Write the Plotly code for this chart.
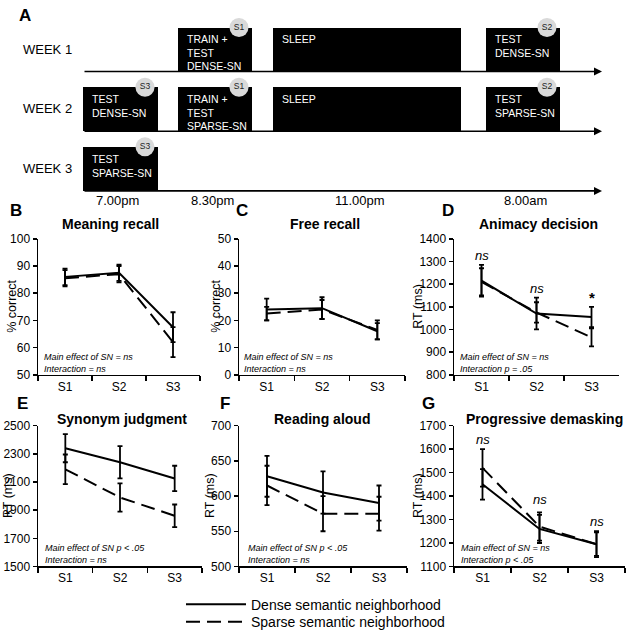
import plotly.graph_objects as go

# ---------------- data ----------------
sessions = ["S1", "S2", "S3"]

meaning_dense = [86.0, 87.5, 67.5]
meaning_dense_err = [3.0, 3.0, 5.5]
meaning_sparse = [85.5, 87.0, 62.0]
meaning_sparse_err = [3.0, 3.0, 5.5]

free_dense = [24.0, 24.5, 16.0]
free_dense_err = [4.0, 4.0, 3.0]
free_sparse = [22.5, 24.0, 16.5]
free_sparse_err = [2.5, 3.5, 3.5]

animacy_dense = [1215, 1070, 1055]
animacy_dense_err = [70, 70, 45]
animacy_sparse = [1210, 1075, 965]
animacy_sparse_err = [60, 45, 40]
animacy_marks = ["ns", "ns", "*"]

synonym_dense = [2340, 2240, 2125]
synonym_dense_err = [100, 115, 90]
synonym_sparse = [2190, 1990, 1860]
synonym_sparse_err = [105, 100, 80]

reading_dense = [628, 605, 590]
reading_dense_err = [29, 30, 25]
reading_sparse = [615, 575, 575]
reading_sparse_err = [28, 25, 24]

demask_dense = [1450, 1260, 1195]
demask_dense_err = [65, 60, 50]
demask_sparse = [1520, 1270, 1195]
demask_sparse_err = [80, 60, 55]
demask_marks = ["ns", "ns", "ns"]

# timeline (panel A)
weeks = ["WEEK 1", "WEEK 2", "WEEK 3"]
time_labels = ["7.00pm", "8.30pm", "11.00pm", "8.00am"]
block_week = [0, 0, 0, 1, 1, 1, 1, 2]
block_slot = [1, 2, 3, 0, 1, 2, 3, 0]
block_text = ["TRAIN +<br>TEST<br>DENSE-SN", "SLEEP", "TEST<br>DENSE-SN",
              "TEST<br>DENSE-SN", "TRAIN +<br>TEST<br>SPARSE-SN", "SLEEP", "TEST<br>SPARSE-SN",
              "TEST<br>SPARSE-SN"]
block_session = ["S1", "", "S2", "S3", "S1", "", "S2", "S3"]

# ---------------- layout helpers ----------------
W, H = 627, 639
FONT = "Liberation Sans, Arial, sans-serif"


def px(x):
    return x / W


def py(y):
    return 1 - y / H


# timeline geometry in panel-A pixel units
slot_start = [83, 178, 273, 486]
slot_end = [158, 252, 461, 560]
time_x = [117, 212, 360, 525]
row_top0, row_h, row_gap = 21, 45, 61
line_start, line_end = 83, 602

fig = go.Figure()

# panel A: blocks
ys, bases, lens = [], [], []
for w, s in zip(block_week, block_slot):
    ys.append(row_top0 + row_gap * w + row_h / 2)
    bases.append(slot_start[s])
    lens.append(slot_end[s] - slot_start[s])
fig.add_trace(go.Bar(orientation="h", y=ys, x=lens, base=bases, width=row_h,
                     marker=dict(color="black", line=dict(width=0)),
                     xaxis="x7", yaxis="y7", showlegend=False, hoverinfo="skip"))

cx, cy, ct = [], [], []
for w, s, lab in zip(block_week, block_slot, block_session):
    if lab:
        cx.append(slot_end[s] - 13)
        cy.append(row_top0 + row_gap * w)
        ct.append(lab)
fig.add_trace(go.Scatter(x=cx, y=cy, text=ct, mode="markers+text", textposition="middle center",
                         marker=dict(size=19, color="#d9d9d9"),
                         textfont=dict(size=8.5, color="#222", family=FONT),
                         xaxis="x7", yaxis="y7", showlegend=False, hoverinfo="skip"))

annotations = []
for w, s, txt in zip(block_week, block_slot, block_text):
    annotations.append(dict(x=slot_start[s] + 7, y=row_top0 + row_gap * w + 4, xref="x7", yref="y7",
                            text=txt, showarrow=False, xanchor="left", yanchor="top", align="left",
                            font=dict(size=10.5, color="white", family=FONT)))
for i, wk in enumerate(weeks):
    annotations.append(dict(x=21, y=row_top0 + row_gap * i + 22, xref="x7", yref="y7", text=wk,
                            showarrow=False, xanchor="left", yanchor="middle",
                            font=dict(size=13, color="black", family=FONT)))
    yl = row_top0 + row_gap * i + row_h
    annotations.append(dict(x=line_end, y=yl, ax=line_start, ay=yl, xref="x7", yref="y7",
                            axref="x7", ayref="y7", text="", showarrow=True, arrowhead=2,
                            arrowsize=1, arrowwidth=1.6, arrowcolor="black"))
for tx, tl in zip(time_x, time_labels):
    annotations.append(dict(x=tx, y=198, xref="x7", yref="y7", text=tl, showarrow=False,
                            xanchor="center", yanchor="middle",
                            font=dict(size=13, color="black", family=FONT)))
annotations.append(dict(x=px(17), y=py(9), xref="paper", yref="paper", text="<b>A</b>",
                        showarrow=False, xanchor="left", yanchor="middle",
                        font=dict(size=17, color="black", family=FONT)))

# ---------------- panels B-G ----------------
panels = [
    dict(letter="B", title="Meaning recall", ylab="% correct", yr=[50, 100], dt=10,
         d=meaning_dense, de=meaning_dense_err, s=meaning_sparse, se=meaning_sparse_err,
         stats="Main effect of SN = ns<br>Interaction = ns", marks=None),
    dict(letter="C", title="Free recall", ylab="% correct", yr=[0, 50], dt=10,
         d=free_dense, de=free_dense_err, s=free_sparse, se=free_sparse_err,
         stats="Main effect of SN = ns<br>Interaction = ns", marks=None),
    dict(letter="D", title="Animacy decision", ylab="RT (ms)", yr=[800, 1400], dt=100,
         d=animacy_dense, de=animacy_dense_err, s=animacy_sparse, se=animacy_sparse_err,
         stats="Main effect of SN = ns<br>Interaction p = .05", marks=animacy_marks),
    dict(letter="E", title="Synonym judgment", ylab="RT (ms)", yr=[1500, 2500], dt=200,
         d=synonym_dense, de=synonym_dense_err, s=synonym_sparse, se=synonym_sparse_err,
         stats="Main effect of SN p < .05<br>Interaction = ns", marks=None),
    dict(letter="F", title="Reading aloud", ylab="RT (ms)", yr=[500, 700], dt=50,
         d=reading_dense, de=reading_dense_err, s=reading_sparse, se=reading_sparse_err,
         stats="Main effect of SN p < .05<br>Interaction = ns", marks=None),
    dict(letter="G", title="Progressive demasking", ylab="RT (ms)", yr=[1100, 1700], dt=100,
         d=demask_dense, de=demask_dense_err, s=demask_sparse, se=demask_sparse_err,
         stats="Main effect of SN = ns<br>Interaction p < .05", marks=demask_marks),
]

# pixel layout for each panel
xdom = [(38, 200), (239, 405), (454, 619), (38, 202), (239, 407), (454, 625)]
ydom = [(237, 376)] * 3 + [(428, 572)] * 3
letter_xy = [(16, 208), (242, 208), (448, 208), (22, 405), (225, 405), (428, 405)]
title_xy = [(110, 222), (325, 222), (538, 222), (122, 421), (322, 421), (544, 421)]
ylab_x = [12, 216, 418, 8, 210, 418]
stats_xy = [(42, 351), (242, 351), (458, 351), (43, 546), (246, 546), (459, 546)]
mark_y = {2: [1325, 1180, 1140], 5: [1642, 1387, 1292]}

DASH = "14px,7px"
layout_axes = {}
for i, p in enumerate(panels):
    n = i + 1
    xa, ya = f"x{n}", f"y{n}"
    for vals, errs, name, dash, leg in (
            (p["d"], p["de"], "Dense semantic neighborhood", "solid", "legend"),
            (p["s"], p["se"], "Sparse semantic neighborhood", DASH, "legend2")):
        fig.add_trace(go.Scatter(
            x=sessions, y=vals, mode="lines", name=name,
            line=dict(color="black", width=2, dash=dash),
            error_y=dict(type="data", array=errs, visible=True, color="black",
                         thickness=1.8, width=2.5),
            xaxis=xa, yaxis=ya, showlegend=(i == 0), legendgroup=name, legend=leg))
    x0, x1 = xdom[i]
    y0, y1 = ydom[i]
    layout_axes[f"xaxis{n}"] = dict(
        domain=[px(x0), px(x1)], anchor=ya, type="category", categoryorder="array",
        categoryarray=sessions, range=[-0.5, 2.5], showline=True, linecolor="black",
        linewidth=1.5, ticks="outside", tickson="boundaries", ticklen=5, tickwidth=1.5,
        tickcolor="black", showgrid=False, zeroline=False,
        tickfont=dict(size=12, color="black", family=FONT))
    layout_axes[f"yaxis{n}"] = dict(
        domain=[py(y1), py(y0)], anchor=xa, range=p["yr"], dtick=p["dt"], tick0=p["yr"][0],
        showline=True, linecolor="black", linewidth=1.5, ticks="outside", ticklen=4,
        tickwidth=1.5, tickcolor="black", showgrid=False, zeroline=False,
        tickfont=dict(size=12, color="black", family=FONT))
    lx, ly = letter_xy[i]
    annotations.append(dict(x=px(lx), y=py(ly), xref="paper", yref="paper",
                            text=f"<b>{p['letter']}</b>", showarrow=False, xanchor="center",
                            yanchor="middle", font=dict(size=17, color="black", family=FONT)))
    tx, ty = title_xy[i]
    annotations.append(dict(x=px(tx), y=py(ty), xref="paper", yref="paper",
                            text=f"<b>{p['title']}</b>", showarrow=False, xanchor="center",
                            yanchor="middle", font=dict(size=14, color="black", family=FONT)))
    annotations.append(dict(x=px(ylab_x[i]), y=py((y0 + y1) / 2), xref="paper", yref="paper",
                            text=p["ylab"], textangle=-90, showarrow=False, xanchor="center",
                            yanchor="middle", font=dict(size=12.5, color="black", family=FONT)))
    sx, sy = stats_xy[i]
    annotations.append(dict(x=px(sx), y=py(sy), xref="paper", yref="paper",
                            text=f"<i>{p['stats']}</i>", showarrow=False, xanchor="left",
                            yanchor="top", align="left",
                            font=dict(size=9, color="black", family=FONT)))
    if p["marks"]:
        for k, m in enumerate(p["marks"]):
            annotations.append(dict(x=k, y=mark_y[i][k], xref=xa, yref=ya,
                                    text=(f"<i>{m}</i>" if m != "*" else "<b>*</b>"),
                                    showarrow=False, xanchor="center", yanchor="middle",
                                    font=dict(size=13 if m != "*" else 15, color="black",
                                              family=FONT)))

legend_style = dict(xanchor="left", yanchor="middle", bgcolor="rgba(0,0,0,0)",
                    font=dict(size=14, color="black", family=FONT), itemwidth=60,
                    tracegroupgap=0)

fig.update_layout(
    width=W, height=H, margin=dict(l=0, r=0, t=0, b=0),
    paper_bgcolor="white", plot_bgcolor="white",
    font=dict(family=FONT, color="black"),
    xaxis7=dict(domain=[0, 1], range=[0, W], visible=False, fixedrange=True),
    yaxis7=dict(domain=[py(205), 1], range=[205, 0], visible=False, fixedrange=True, anchor="x7"),
    annotations=annotations,
    legend=dict(x=px(181), y=py(611), **legend_style),
    legend2=dict(x=px(181), y=py(629), **legend_style),
    bargap=0,
    hovermode=False,
    **layout_axes,
)

fig.write_html("out.html", config={"displayModeBar": False, "staticPlot": True},
               post_script="document.body.style.margin='0px';")
